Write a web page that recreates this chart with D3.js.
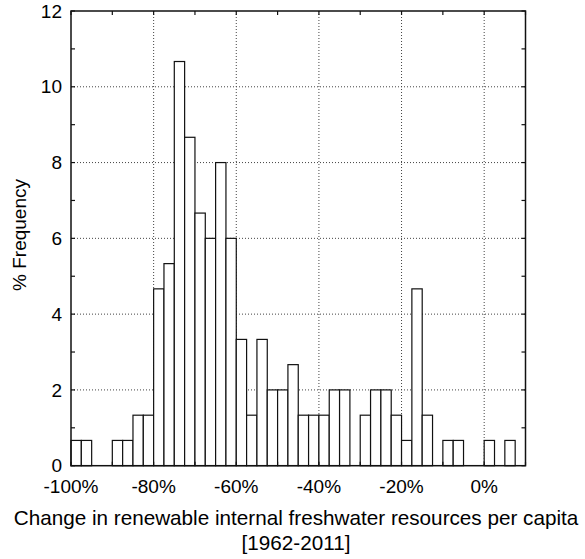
<!DOCTYPE html>
<html>
<head>
<meta charset="utf-8">
<script src="https://cdn.jsdelivr.net/npm/d3@7"></script>
<style>
  body { margin: 0; background: #fff; }
  svg { display: block; }
  text { font-family: "Liberation Sans", Arial, sans-serif; fill: #000; }
</style>
</head>
<body>
<script>
// histogram bins: start of each 2.5% bin
const binStart = [
  -100, -97.5, -95, -92.5, -90, -87.5, -85, -82.5, -80, -77.5,
  -75, -72.5, -70, -67.5, -65, -62.5, -60, -57.5, -55, -52.5,
  -50, -47.5, -45, -42.5, -40, -37.5, -35, -32.5, -30, -27.5,
  -25, -22.5, -20, -17.5, -15, -12.5, -10, -7.5, -5, -2.5,
  0, 2.5, 5, 7.5
];
const binWidth = 2.5;
// % frequency in each bin
const freq = [
  0.667, 0.667, 0, 0, 0.667, 0.667, 1.333, 1.333, 4.667, 5.333,
  10.667, 8.667, 6.667, 6, 8, 6, 3.333, 1.333, 3.333, 2,
  2, 2.667, 1.333, 1.333, 1.333, 2, 2, 0, 1.333, 2,
  2, 1.333, 0.667, 4.667, 1.333, 0, 0.667, 0.667, 0, 0,
  0.667, 0, 0.667, 0
];
const xTicks = [-100, -80, -60, -40, -20, 0];
const xGrid = [-80, -60, -40, -20, 0];
const xMinor = [-90, -70, -50, -30, -10, 10];
const yTicks = [0, 2, 4, 6, 8, 10, 12];
const yGrid = [2, 4, 6, 8, 10];
const yMinor = [1, 3, 5, 7, 9, 11];

const width = 585, height = 559;
const margin = { top: 11, right: 59.5, bottom: 93.3, left: 71 };

const svg = d3.select("body").append("svg")
  .attr("width", width)
  .attr("height", height);

const x = d3.scaleLinear()
  .domain([-100, 10])
  .range([margin.left, width - margin.right]);

const y = d3.scaleLinear()
  .domain([0, 12])
  .range([height - margin.bottom, margin.top]);

const x0 = x.range()[0], x1 = x.range()[1];
const y0 = y.range()[0], y1 = y.range()[1];

// grid
const grid = svg.append("g")
  .attr("stroke", "#444")
  .attr("stroke-width", 1)
  .attr("stroke-dasharray", "1,2");
grid.selectAll(".gx").data(xGrid).enter().append("line")
  .attr("x1", d => x(d)).attr("x2", d => x(d))
  .attr("y1", y1).attr("y2", y0);
grid.selectAll(".gy").data(yGrid).enter().append("line")
  .attr("x1", x0).attr("x2", x1)
  .attr("y1", d => y(d)).attr("y2", d => y(d));

// bars
const bins = binStart.map((s, i) => ({ start: s, value: freq[i] }))
  .filter(d => d.value > 0);
svg.selectAll(".bar")
  .data(bins)
  .enter()
  .append("rect")
  .attr("x", d => x(d.start))
  .attr("y", d => y(d.value))
  .attr("width", d => x(d.start + binWidth) - x(d.start))
  .attr("height", d => y(0) - y(d.value))
  .attr("fill", "#fff")
  .attr("stroke", "#111")
  .attr("stroke-width", 1.2);

// ticks (inward on all four sides)
const tickLen = 4;
const ticks = svg.append("g").attr("stroke", "#111").attr("stroke-width", 1.2);
const xAll = xTicks.concat(xMinor);
ticks.selectAll(".tt").data(xAll).enter().append("line")
  .attr("x1", d => x(d)).attr("x2", d => x(d))
  .attr("y1", y1).attr("y2", y1 + tickLen);
ticks.selectAll(".tb").data(xAll).enter().append("line")
  .attr("x1", d => x(d)).attr("x2", d => x(d))
  .attr("y1", y0).attr("y2", y0 - tickLen);
const yAll = yTicks.concat(yMinor);
ticks.selectAll(".tl").data(yAll).enter().append("line")
  .attr("x1", x0).attr("x2", x0 + tickLen)
  .attr("y1", d => y(d)).attr("y2", d => y(d));
ticks.selectAll(".tr").data(yAll).enter().append("line")
  .attr("x1", x1).attr("x2", x1 - tickLen)
  .attr("y1", d => y(d)).attr("y2", d => y(d));

// frame
svg.append("rect")
  .attr("x", x0).attr("y", y1)
  .attr("width", x1 - x0).attr("height", y0 - y1)
  .attr("fill", "none")
  .attr("stroke", "#111")
  .attr("stroke-width", 1.5);

// tick labels
svg.selectAll(".xl").data(xTicks).enter().append("text")
  .attr("x", d => x(d))
  .attr("y", y0 + 27)
  .attr("text-anchor", "middle")
  .style("font-size", "19px")
  .text(d => d + "%");

svg.selectAll(".yl").data(yTicks).enter().append("text")
  .attr("x", x0 - 9)
  .attr("y", d => y(d))
  .attr("dy", "0.35em")
  .attr("text-anchor", "end")
  .style("font-size", "19px")
  .text(d => d);

// axis titles
svg.append("text")
  .attr("transform", "translate(26,235) rotate(-90)")
  .attr("text-anchor", "middle")
  .style("font-size", "19px")
  .text("% Frequency");

svg.append("text")
  .attr("x", 296)
  .attr("y", 525)
  .attr("text-anchor", "middle")
  .style("font-size", "20.7px")
  .text("Change in renewable internal freshwater resources per capita");

svg.append("text")
  .attr("x", 296)
  .attr("y", 550)
  .attr("text-anchor", "middle")
  .style("font-size", "20.7px")
  .text("[1962-2011]");
</script>
</body>
</html>
